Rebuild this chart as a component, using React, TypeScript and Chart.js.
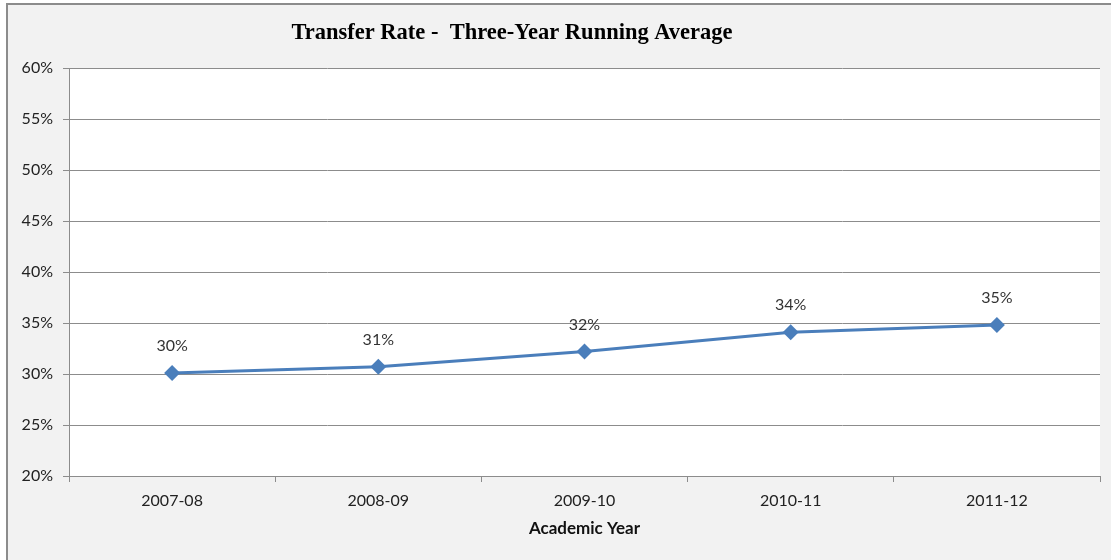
import React, { useEffect, useRef } from "react";
import { Chart, registerables } from "chart.js";

Chart.register(...registerables);

const categories = ["2007-08", "2008-09", "2009-10", "2010-11", "2011-12"];
const transferRate = [30.1, 30.7, 32.2, 34.1, 34.8];
const pointLabels = ["30%", "31%", "32%", "34%", "35%"];
const chartTitle = "Transfer Rate -  Three-Year Running Average";
const xAxisTitle = "Academic Year";

const SANS = "Lato, 'Open Sans', sans-serif";

export default function App() {
  const ref = useRef<HTMLCanvasElement | null>(null);

  useEffect(() => {
    document.body.style.margin = "0";
    const canvas = ref.current;
    if (!canvas) return;

    const bgPlugin = {
      id: "plotBg",
      beforeDraw(chart: any) {
        const { ctx, chartArea } = chart;
        ctx.save();
        ctx.fillStyle = "#ffffff";
        ctx.fillRect(chartArea.left, chartArea.top, chartArea.right - chartArea.left, chartArea.bottom - chartArea.top);
        ctx.restore();
      },
    };

    const titlePlugin = {
      id: "customTitle",
      afterDraw(chart: any) {
        const { ctx } = chart;
        ctx.save();
        ctx.font = "bold 22.5px 'Liberation Serif', 'Times New Roman', serif";
        ctx.fillStyle = "#000000";
        ctx.textAlign = "center";
        ctx.textBaseline = "middle";
        ctx.fillText(chartTitle, 512, 33);
        ctx.restore();
      },
    };

    const labelPlugin = {
      id: "pointLabels",
      afterDatasetsDraw(chart: any) {
        const { ctx } = chart;
        const meta = chart.getDatasetMeta(0);
        ctx.save();
        ctx.font = "16px " + SANS;
        ctx.fillStyle = "#333333";
        ctx.textAlign = "center";
        ctx.textBaseline = "middle";
        meta.data.forEach((pt: any, i: number) => {
          ctx.fillText(pointLabels[i], pt.x, pt.y - 27);
        });
        ctx.restore();
      },
    };

    const chart = new Chart(canvas, {
      type: "line",
      data: {
        labels: categories,
        datasets: [
          {
            data: transferRate,
            borderColor: "#4a7ebb",
            backgroundColor: "#4a7ebb",
            borderWidth: 3,
            pointStyle: "rectRot",
            pointRadius: 8,
            pointHoverRadius: 8,
            pointBorderWidth: 0,
            tension: 0,
          },
        ],
      },
      options: {
        animation: false,
        responsive: false,
        maintainAspectRatio: false,
        layout: { padding: { top: 68, left: 0, right: 11, bottom: 0 } },
        plugins: {
          legend: { display: false },
          title: { display: false },
          tooltip: { enabled: false },
        },
        scales: {
          x: {
            type: "category",
            offset: true,
            grid: {
              offset: true,
              drawOnChartArea: false,
              drawTicks: true,
              tickLength: 6,
              color: "#8c8c8c",
            },
            border: { display: true, color: "#8c8c8c", width: 1 },
            ticks: {
              color: "#222222",
              font: { family: SANS, size: 16 },
              padding: 9,
              maxRotation: 0,
            },
            title: {
              display: true,
              text: xAxisTitle,
              color: "#111111",
              font: { family: SANS, size: 17, weight: "bold" },
              padding: { top: 0, bottom: 21 },
            },
            afterFit(scale: any) {
              scale.height = 84;
            },
          },
          y: {
            min: 20,
            max: 60,
            ticks: {
              stepSize: 5,
              color: "#222222",
              font: { family: SANS, size: 16 },
              padding: 10,
              callback: (v: any) => v + "%",
            },
            grid: {
              color: "#8c8c8c",
              tickLength: 6,
              drawTicks: true,
            },
            border: { display: true, color: "#8c8c8c", width: 1 },
            afterFit(scale: any) {
              scale.width = 69;
            },
          },
        },
      },
      plugins: [bgPlugin, titlePlugin, labelPlugin],
    });

    return () => chart.destroy();
  }, []);

  return (
    <div style={{ position: "relative", width: 1111, height: 560, background: "#ffffff", overflow: "hidden" }}>
      <div
        style={{
          position: "absolute",
          left: 6,
          top: 3,
          width: 1120,
          height: 570,
          background: "#f2f2f2",
          border: "2px solid #8c8c8c",
        }}
      />
      <canvas ref={ref} width={1111} height={560} style={{ position: "absolute", left: 0, top: 0 }} />
    </div>
  );
}
